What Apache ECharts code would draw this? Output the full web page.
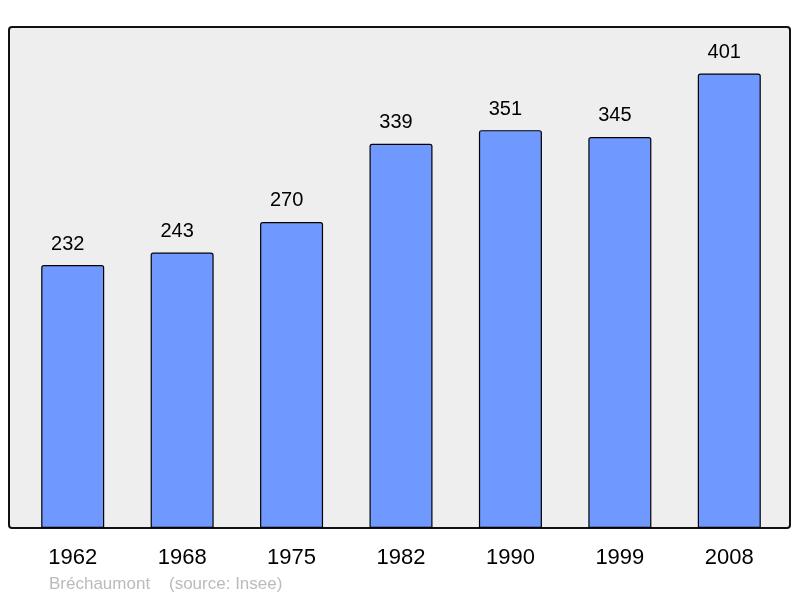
<!DOCTYPE html>
<html>
<head>
<meta charset="utf-8">
<script src="https://cdn.jsdelivr.net/npm/echarts@6/dist/echarts.min.js"></script>
<style>
  html, body { margin: 0; padding: 0; background: #fff; }
  #chart { width: 800px; height: 598px; }
</style>
</head>
<body>
<div id="chart"></div>
<script>
var years = ['1962', '1968', '1975', '1982', '1990', '1999', '2008']
var population = [232, 243, 270, 339, 351, 345, 401]
var sourceText = 'Bréchaumont    (source: Insee)'

var chart = echarts.init(document.getElementById('chart'))
chart.setOption({
  animation: false,
  textStyle: { fontFamily: 'Liberation Sans, Arial, sans-serif' },
  graphic: [
    {
      // cadre gris
      type: 'rect',
      z: -10,
      shape: { x: 9, y: 27, width: 781, height: 501, r: 3 },
      style: { fill: '#eeeeee', stroke: '#111', lineWidth: 2 }
    },
    {
      type: 'text',
      left: 49,
      top: 576,
      style: {
        text: sourceText,
        fill: '#bbbbbb',
        font: '17px Liberation Sans, Arial, sans-serif'
      }
    }
  ],
  grid: {
    left: 18,
    right: 16,
    top: 27,
    bottom: 70,
    containLabel: false
  },
  xAxis: {
    type: 'category',
    data: years,
    axisLine: { show: false },
    axisTick: { show: false },
    axisLabel: {
      margin: 19,
      fontSize: 22,
      color: '#000'
    }
  },
  yAxis: {
    type: 'value',
    min: 0,
    max: 442,
    show: false,
    splitLine: { show: false }
  },
  series: [{
    type: 'bar',
    data: population,
    barWidth: 63,
    itemStyle: {
      color: '#7099ff',
      borderColor: '#000',
      borderWidth: 1.2,
      borderRadius: [2, 2, 0, 0]
    },
    label: {
      show: true,
      position: 'top',
      distance: 11,
      offset: [-5, 0],
      fontSize: 20,
      color: '#000'
    }
  }]
})
</script>
</body>
</html>
